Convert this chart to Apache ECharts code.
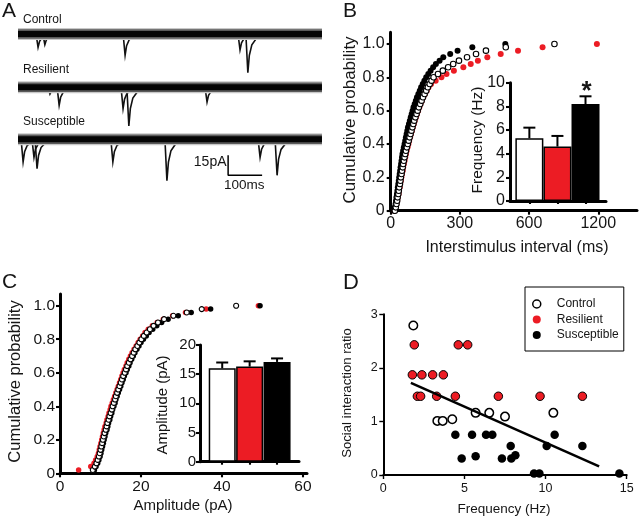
<!DOCTYPE html>
<html><head><meta charset="utf-8">
<script src="https://cdn.jsdelivr.net/npm/echarts@6/dist/echarts.min.js"></script>
<style>html,body{margin:0;padding:0;background:#fff}#c{width:640px;height:521px}</style>
</head><body><div id="c"></div>
<script>
// ---------- Panel A: example traces ----------
const traceNames = ['Control', 'Resilient', 'Susceptible'];
const traceBaselines = [0, -40, -79];          // pA offsets of the three traces
const traceSpan = [0, 894];                     // ms
const ctrlEventTimes = [59, 79, 315, 653, 676];
const ctrlEventAmps  = [10, 8, 16, 12, 29];
const resEventTimes  = [94, 121, 309, 326, 556];
const resEventAmps   = [5, 13.5, 16, 29, 11];
const susEventTimes  = [15, 47, 56, 279, 438, 712, 762];
const susEventAmps   = [17, 13.5, 22, 17, 31, 13.5, 27];
const scaleBarX = [618, 618, 718];              // 100 ms
const scaleBarY = [-91, -106, -106];            // 15 pA

// ---------- Panel B: interstimulus interval ----------
const bTickMs = [0, 300, 600, 1200];
const bTickLabels = ['0', '300', '600', '1200'];
const bProb = [0,0.02,0.04,0.06,0.08,0.10,0.12,0.14,0.16,0.18,0.20,0.22,0.24,0.26,0.28,0.30,0.32,0.34,0.36,0.38,0.40,0.42,0.44,0.46,0.48,0.50,0.52,0.54,0.56,0.58,0.60,0.62,0.64,0.66,0.68,0.70,0.72,0.74,0.76,0.78,0.80,0.82,0.84,0.86,0.88,0.90,0.92,0.94,0.96,0.98,1.0];
const bCtrl = [18,22,25,28,30,33,35,37,40,42,44,47,49,52,54,57,60,63,66,70,74,78,82,86,90,94,98,102,107,112,117,122,128,134,140,147,154,161,169,177,186,205,226,249,271,296,331,370,413,499,820];
const bRes  = [16,21,25,28,31,34,36,39,41,44,46,49,52,54,57,60,63,66,69,73,77,80,84,88,92,96,100,104,109,114,119,124,129,135,141,148,156,164,175,195,220,242,274,315,347,378,419,477,552,717,1188];
const bSus  = [15,18,21,23,25,27,29,31,33,35,37,39,41,43,45,47,49,51,54,57,60,63,66,69,72,75,79,83,87,91,95,99,104,109,114,120,126,132,139,146,154,163,173,184,196,212,228,258,290,354,497];
const bInsetMeans = [5.3, 4.6, 8.2];
const bInsetErr   = [0.9, 0.9, 0.65];

// ---------- Panel C: amplitude ----------
const cProb = [0.02,0.04,0.06,0.08,0.10,0.12,0.14,0.16,0.18,0.20,0.22,0.24,0.26,0.28,0.30,0.32,0.34,0.36,0.38,0.40,0.42,0.44,0.46,0.48,0.50,0.52,0.54,0.56,0.58,0.60,0.62,0.64,0.66,0.68,0.70,0.72,0.74,0.76,0.78,0.80,0.82,0.84,0.86,0.88,0.90,0.92,0.94,0.96,0.98,1.0];
const cCtrl = [8.1,8.6,9.0,9.3,9.6,9.8,10.0,10.2,10.4,10.6,10.8,11.0,11.3,11.5,11.7,12.0,12.2,12.5,12.8,13.0,13.3,13.6,13.8,14.1,14.4,14.7,15.0,15.3,15.6,16.0,16.3,16.6,17.0,17.4,17.8,18.2,18.6,19.1,19.6,20.1,20.7,21.4,22.2,23.1,24.2,25.7,28.0,31.3,35.0,43.5];
const cRes  = [4.6,7.6,8.4,8.8,9.2,9.5,9.7,9.9,10.1,10.3,10.5,10.7,10.9,11.1,11.4,11.6,11.9,12.1,12.4,12.6,12.9,13.2,13.5,13.8,14.1,14.4,14.7,15.0,15.3,15.6,15.9,16.3,16.6,17.0,17.4,17.8,18.3,18.8,19.3,19.8,20.4,21.0,21.8,22.8,24.0,25.5,27.8,31.0,36.1,49.0];
const cSus  = [8.5,8.9,9.3,9.6,9.9,10.1,10.3,10.5,10.7,10.9,11.1,11.3,11.6,11.8,12.0,12.3,12.5,12.8,13.0,13.3,13.6,13.8,14.1,14.4,14.7,15.0,15.3,15.6,15.9,16.3,16.6,17.0,17.3,17.7,18.1,18.5,19.0,19.5,20.0,20.6,21.3,22.0,22.9,23.9,25.1,26.7,29.2,32.4,37.2,49.4];
const cInsetMeans = [16.0, 16.3, 17.1];
const cInsetErr   = [1.0, 0.9, 0.6];

// ---------- Panel D: correlation ----------
const dCtrlX = [1.85, 3.33, 3.66, 4.25, 5.69, 6.53, 7.50, 10.48];
const dCtrlY = [2.79, 1.01, 1.01, 1.04, 1.16, 1.16, 1.09, 1.16];
const dResX = [1.91, 4.62, 5.20, 1.79, 2.38, 3.04, 3.70, 2.10, 2.30, 3.29, 4.44, 7.09, 9.66, 12.27];
const dResY = [2.43, 2.43, 2.43, 1.87, 1.87, 1.87, 1.87, 1.47, 1.47, 1.47, 1.47, 1.47, 1.47, 1.47];
const dSusX = [4.44, 5.47, 6.33, 6.72, 10.56, 4.83, 5.69, 7.31, 7.85, 7.89, 8.14, 10.07, 12.27, 9.29, 9.62, 14.55];
const dSusY = [0.75, 0.75, 0.75, 0.75, 0.75, 0.31, 0.35, 0.31, 0.54, 0.31, 0.37, 0.54, 0.54, 0.03, 0.03, 0.03];
const dRegX = [1.7, 13.3];
const dRegY = [1.72, 0.16];

const groupNames = ['Control', 'Resilient', 'Susceptible'];
const barColors = ['#ffffff', '#ec1c24', '#000000'];
const RED = '#ec1c24';
const FONT = '"Liberation Sans", Arial, Helvetica, sans-serif';
const INK = '#151515';

// piecewise-linear ISI axis (0-300-600 | 600-1200)
function toU(ms) {
  const n = bTickMs.length - 1;
  for (let i = 0; i < n; i++) {
    if (ms <= bTickMs[i + 1]) return i + (ms - bTickMs[i]) / (bTickMs[i + 1] - bTickMs[i]);
  }
  return n - 1 + (ms - bTickMs[n - 1]) / (bTickMs[n] - bTickMs[n - 1]);
}
const zip = (xs, ys) => xs.map((x, i) => [x, ys[i]]);

function axis(gridIndex, o) {
  const w = o.w || 3;
  return {
    type: 'value', gridIndex, min: o.min, max: o.max,
    show: o.show !== false,
    axisLine: { show: true, onZero: false, lineStyle: { color: '#000', width: w } },
    axisTick: { show: o.tick !== false, length: o.tickLen || 4, inside: false,
      lineStyle: { color: '#000', width: w * 0.7 }, customValues: o.ticks },
    axisLabel: { show: o.labels !== false, color: INK, fontSize: o.fs || 15, fontFamily: FONT,
      margin: o.margin || 5, customValues: o.ticks, formatter: o.fmt },
    splitLine: { show: false }
  };
}

function spikeItem(params, api) {
  const t = api.value(0), base = api.value(1), amp = api.value(2);
  const p0 = api.coord([t, base]);
  const p1 = api.coord([t, base - amp]);
  const d = p1[1] - p0[1];
  return { type: 'polyline',
    shape: { points: [[p0[0] - 2, p0[1]], [p1[0], p1[1]], [p1[0] + 1.5, p0[1] + d * 0.55],
      [p1[0] + 4, p0[1] + d * 0.28], [p1[0] + 9, p0[1] + d * 0.1], [p1[0] + 16, p0[1]]] },
    style: { stroke: '#111', fill: null, lineWidth: 1.6 } };
}
function errItem(params, api) {
  const x = api.value(0), m = api.value(1), e = api.value(2);
  const a = api.coord([x, m]), b = api.coord([x, m + e]);
  return { type: 'group', children: [
    { type: 'line', shape: { x1: a[0], y1: a[1], x2: b[0], y2: b[1] }, style: { stroke: '#000', lineWidth: 2 } },
    { type: 'line', shape: { x1: b[0] - 6, y1: b[1], x2: b[0] + 6, y2: b[1] }, style: { stroke: '#000', lineWidth: 2 } }
  ] };
}
function txt(text, x, y, size, o) {
  o = o || {};
  return { type: 'text', x, y, rotation: o.rot || 0, z: 100,
    style: { text, fill: INK, fontSize: size, fontFamily: FONT, fontWeight: o.weight || 'normal',
      textAlign: o.align || 'center', align: o.align || 'center',
      textVerticalAlign: 'middle', verticalAlign: 'middle' } };
}

const traceEvents = [
  ctrlEventTimes.map((t, i) => [t, traceBaselines[0], ctrlEventAmps[i]]),
  resEventTimes.map((t, i) => [t, traceBaselines[1], resEventAmps[i]]),
  susEventTimes.map((t, i) => [t, traceBaselines[2], susEventAmps[i]])
];

const series = [];
// A
const bandLayers = [['#c8c8c8', 12], ['#5a5a5a', 9.5], ['#050505', 6]];
traceBaselines.forEach((b) => {
  bandLayers.forEach(([col, w]) => {
    series.push({ type: 'line', xAxisIndex: 0, yAxisIndex: 0, symbol: 'none', silent: true,
      data: [[traceSpan[0], b], [traceSpan[1], b]], lineStyle: { color: col, width: w } });
  });
});
traceEvents.forEach((ev) => {
  series.push({ type: 'custom', xAxisIndex: 0, yAxisIndex: 0, data: ev, renderItem: spikeItem, silent: true, clip: false });
});
series.push({ type: 'line', xAxisIndex: 0, yAxisIndex: 0, symbol: 'none', silent: true,
  data: zip(scaleBarX, scaleBarY), lineStyle: { color: '#000', width: 1.5 } });

const solid = (c, extra) => Object.assign({ color: c, opacity: 1 }, extra || {});
// B main
series.push({ name: 'B Resilient', type: 'scatter', xAxisIndex: 1, yAxisIndex: 1, symbolSize: 6,
  data: bRes.map((ms, i) => [toU(ms), bProb[i]]), itemStyle: solid(RED) });
series.push({ name: 'B Susceptible', type: 'scatter', xAxisIndex: 1, yAxisIndex: 1, symbolSize: 6,
  data: bSus.map((ms, i) => [toU(ms), bProb[i]]), itemStyle: solid('#000') });
series.push({ name: 'B Control', type: 'scatter', xAxisIndex: 1, yAxisIndex: 1, symbolSize: 5.5,
  data: bCtrl.map((ms, i) => [toU(ms), bProb[i]]), itemStyle: solid('#fff', { borderColor: '#000', borderWidth: 1.1 }) });
// B inset
series.push({ type: 'bar', xAxisIndex: 2, yAxisIndex: 2, barWidth: 28,
  data: bInsetMeans.map((m, i) => ({ value: [i, m], itemStyle: { color: barColors[i] } })),
  itemStyle: { borderColor: '#000', borderWidth: 1.5 } });
series.push({ type: 'custom', xAxisIndex: 2, yAxisIndex: 2, renderItem: errItem, z: 5,
  data: bInsetMeans.map((m, i) => [i, m, bInsetErr[i]]) });

// C main
series.push({ name: 'C Resilient', type: 'scatter', xAxisIndex: 3, yAxisIndex: 3, symbolSize: 5.5,
  data: zip(cRes, cProb), itemStyle: solid(RED) });
series.push({ name: 'C Susceptible', type: 'scatter', xAxisIndex: 3, yAxisIndex: 3, symbolSize: 5.5,
  data: zip(cSus, cProb), itemStyle: solid('#000') });
series.push({ name: 'C Control', type: 'scatter', xAxisIndex: 3, yAxisIndex: 3, symbolSize: 5,
  data: zip(cCtrl, cProb), itemStyle: solid('#fff', { borderColor: '#000', borderWidth: 1.1 }) });
// C inset
series.push({ type: 'bar', xAxisIndex: 4, yAxisIndex: 4, barWidth: 27,
  data: cInsetMeans.map((m, i) => ({ value: [i, m], itemStyle: { color: barColors[i] } })),
  itemStyle: { borderColor: '#000', borderWidth: 1.5 } });
series.push({ type: 'custom', xAxisIndex: 4, yAxisIndex: 4, renderItem: errItem, z: 5,
  data: cInsetMeans.map((m, i) => [i, m, cInsetErr[i]]) });

// D
series.push({ name: 'Control', type: 'scatter', xAxisIndex: 5, yAxisIndex: 5, symbolSize: 8.5,
  data: zip(dCtrlX, dCtrlY), itemStyle: solid('#fff', { borderColor: '#000', borderWidth: 1.5 }) });
series.push({ name: 'Resilient', type: 'scatter', xAxisIndex: 5, yAxisIndex: 5, symbolSize: 8.5,
  data: zip(dResX, dResY), itemStyle: solid(RED, { borderColor: '#000', borderWidth: 1 }) });
series.push({ name: 'Susceptible', type: 'scatter', xAxisIndex: 5, yAxisIndex: 5, symbolSize: 8.5,
  data: zip(dSusX, dSusY), itemStyle: solid('#000') });
series.push({ type: 'line', xAxisIndex: 5, yAxisIndex: 5, symbol: 'none', silent: true,
  data: zip(dRegX, dRegY), lineStyle: { color: '#000', width: 2.5 } });

const gridBase = { containLabel: false, outerBoundsMode: 'none', show: false };
const option = {
  animation: false,
  backgroundColor: '#fff',
  grid: [
    Object.assign({ left: 18, top: 23.33, width: 306, height: 168 }, gridBase),
    Object.assign({ left: 390.7, top: 32.3, width: 246.3, height: 178.4 }, gridBase),
    Object.assign({ left: 510, top: 82.7, width: 96, height: 118.3 }, gridBase),
    Object.assign({ left: 60, top: 294, width: 247, height: 179.3 }, gridBase),
    Object.assign({ left: 200, top: 345, width: 99, height: 116.7 }, gridBase),
    Object.assign({ left: 383.3, top: 314.3, width: 243.4, height: 160.7 }, gridBase)
  ],
  xAxis: [
    axis(0, { min: 0, max: 900, show: false }),
    axis(1, { min: 0, max: 3.56, ticks: [0, 1, 2, 3], fs: 16, margin: 5, fmt: (v) => bTickLabels[Math.round(v)] }),
    axis(2, { min: -0.69, max: 2.73, ticks: [0, 1, 2], labels: false, tickLen: 3 }),
    axis(3, { min: 0, max: 61, ticks: [0, 20, 40, 60], fs: 15.5, margin: 5 }),
    axis(4, { min: -0.81, max: 2.8, ticks: [0, 1, 2], labels: false, tickLen: 3 }),
    axis(5, { min: 0, max: 15, ticks: [0, 5, 10, 15], fs: 12.5, margin: 7, w: 2 })
  ],
  yAxis: [
    axis(0, { min: -118, max: 8, show: false }),
    axis(1, { min: 0, max: 1.07, ticks: [0, 0.2, 0.4, 0.6, 0.8, 1.0], fs: 16, margin: 6,
      fmt: (v) => v === 0 ? '0' : v.toFixed(1) }),
    axis(2, { min: 0, max: 10, ticks: [0, 2, 4, 6, 8, 10], fs: 16, margin: 5 }),
    axis(3, { min: 0, max: 1.07, ticks: [0, 0.2, 0.4, 0.6, 0.8, 1.0], fs: 15.5, margin: 5,
      fmt: (v) => v === 0 ? '0' : v.toFixed(1) }),
    axis(4, { min: 0, max: 20, ticks: [0, 5, 10, 15, 20], fs: 15, margin: 4 }),
    axis(5, { min: 0, max: 3, ticks: [0, 1, 2, 3], fs: 12.5, margin: 5.5, w: 2 })
  ],
  legend: {
    show: true, orient: 'vertical', left: 525, top: 287, selectedMode: false,
    borderColor: '#000', borderWidth: 1, padding: [10, 5, 9, 7],
    itemWidth: 8, itemHeight: 8, itemGap: 1.5,
    textStyle: { fontSize: 12, fontFamily: FONT, color: INK, lineHeight: 14, padding: [0, 0, 0, 11] },
    data: [
      { name: groupNames[0], icon: 'circle', itemStyle: { color: '#fff', borderColor: '#000', borderWidth: 1.5 } },
      { name: groupNames[1], icon: 'circle', itemStyle: { color: RED, borderWidth: 0 } },
      { name: groupNames[2], icon: 'circle', itemStyle: { color: '#000', borderWidth: 0 } }
    ]
  },
  graphic: [
    txt('A', 2, 11, 21, { align: 'left' }),
    txt('B', 343, 11, 21, { align: 'left' }),
    txt('C', 2, 282, 21, { align: 'left' }),
    txt('D', 343, 283, 22, { align: 'left' }),
    txt(traceNames[0], 23, 20, 12, { align: 'left' }),
    txt(traceNames[1], 23, 70, 12, { align: 'left' }),
    txt(traceNames[2], 23, 121.5, 12, { align: 'left' }),
    txt('15pA', 226.5, 162.5, 14, { align: 'right' }),
    txt('100ms', 224, 185, 13.5, { align: 'left' }),
    txt('Cumulative probability', 350.5, 120, 17, { rot: Math.PI / 2 }),
    txt('Interstimulus interval (ms)', 517, 248, 16),
    txt('Frequency (Hz)', 478, 140, 15.5, { rot: Math.PI / 2 }),
    txt('*', 586.5, 92, 26, { weight: 'bold' }),
    txt('Cumulative probability', 15, 381.5, 16.5, { rot: Math.PI / 2 }),
    txt('Amplitude (pA)', 183, 506, 15),
    txt('Amplitude (pA)', 162.5, 405, 15, { rot: Math.PI / 2 }),
    txt('Social interaction ratio', 347.5, 393, 13.2, { rot: Math.PI / 2 }),
    txt('Frequency (Hz)', 504, 509, 13.5)
  ],
  series
};
const chart = echarts.init(document.getElementById('c'), null, { renderer: 'canvas', width: 640, height: 521 });
chart.setOption(option);
</script>
</body></html>
